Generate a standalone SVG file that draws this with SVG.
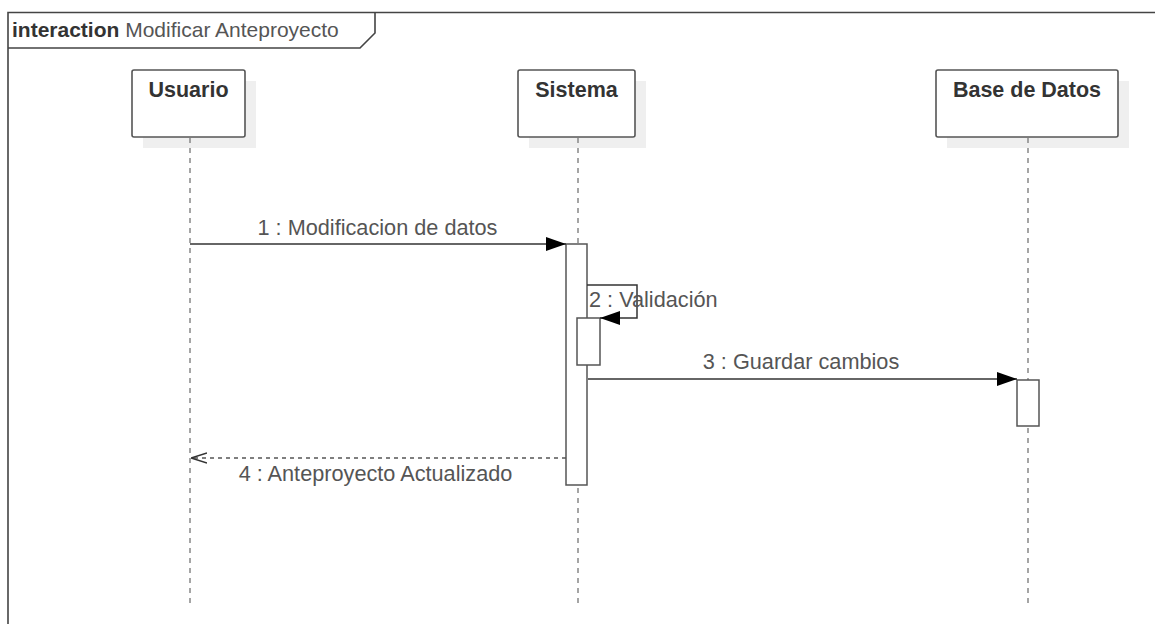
<svg xmlns="http://www.w3.org/2000/svg" width="1155" height="624" viewBox="0 0 1155 624">
  <style>
    .frame { fill: none; stroke: #444; stroke-width: 1.6; }
    .shadow { fill: #efefef; stroke: none; }
    .box { fill: #fff; stroke: #555; stroke-width: 1.6; }
    .act { fill: #fff; stroke: #555; stroke-width: 1.5; }
    .life { fill: none; stroke: #888; stroke-width: 1.5; stroke-dasharray: 5 5; }
    .name { font-family: "Liberation Sans", Arial, sans-serif; font-size: 21.5px; font-weight: bold; fill: #333; }
    .label { font-family: "Liberation Sans", Arial, sans-serif; font-size: 21.7px; fill: #555; }
    .msg { fill: none; stroke: #333; stroke-width: 1.5; }
    .ret { fill: none; stroke: #555; stroke-width: 1.5; stroke-dasharray: 4 4; }
  </style>
  <defs>
    <marker id="solid" viewBox="0 0 20 14" refX="20" refY="7" markerWidth="20" markerHeight="14" markerUnits="userSpaceOnUse" orient="auto">
      <path d="M0,0 L20,7 L0,14 Z" fill="#000"/>
    </marker>
    <marker id="open" viewBox="0 0 16 12" refX="16" refY="6" markerWidth="16" markerHeight="12" markerUnits="userSpaceOnUse" orient="auto">
      <path d="M0,1 L16,6 L0,11" fill="none" stroke="#333" stroke-width="1.5"/>
    </marker>
  </defs>

  <rect width="1155" height="624" fill="#fff"/>

  <!-- interaction frame -->
  <g id="frame">
    <path class="frame" d="M8,630 L8,12.5 L1160,12.5"/>
    <path class="frame" d="M8,48 L360,48 L375,33 L375,12.5"/>
    <text x="12" y="37" font-family="'Liberation Sans', Arial, sans-serif" font-size="21px"><tspan font-weight="bold" fill="#333">interaction</tspan><tspan fill="#555"> Modificar Anteproyecto</tspan></text>
  </g>

  <!-- lifelines -->
  <g id="usuario">
    <rect class="shadow" x="143" y="81" width="113" height="67"/>
    <rect class="box" x="132" y="70" width="113" height="67" rx="2"/>
    <text class="name" x="188.5" y="97" text-anchor="middle">Usuario</text>
    <line class="life" x1="190" y1="138" x2="190" y2="605"/>
  </g>

  <g id="sistema">
    <rect class="shadow" x="529" y="81" width="117" height="67"/>
    <rect class="box" x="518" y="70" width="117" height="67" rx="2"/>
    <text class="name" x="576.5" y="97" text-anchor="middle">Sistema</text>
    <line class="life" x1="578" y1="138" x2="578" y2="605"/>
    <rect class="act" x="566" y="244" width="21" height="241"/>
    <rect class="act" x="577" y="318" width="23" height="47"/>
  </g>

  <g id="base-de-datos">
    <rect class="shadow" x="947" y="81" width="182" height="67"/>
    <rect class="box" x="936" y="70" width="182" height="67" rx="2"/>
    <text class="name" x="1027" y="97" text-anchor="middle">Base de Datos</text>
    <line class="life" x1="1028" y1="138" x2="1028" y2="605"/>
    <rect class="act" x="1017" y="380" width="22" height="46"/>
  </g>

  <!-- messages -->
  <g id="connectors">
    <line class="msg" x1="190" y1="244" x2="566" y2="244" marker-end="url(#solid)"/>
    <text class="label" x="377.5" y="235" text-anchor="middle">1 : Modificacion de datos</text>

    <path class="msg" d="M587,285 L637,285 L637,318 L600,318" marker-end="url(#solid)"/>
    <text class="label" x="589" y="307">2 : Validación</text>

    <line class="msg" x1="588" y1="379" x2="1017" y2="379" marker-end="url(#solid)"/>
    <text class="label" x="801" y="369" text-anchor="middle">3 : Guardar cambios</text>

    <line class="ret" x1="566" y1="458" x2="191" y2="458" marker-end="url(#open)"/>
    <text class="label" x="375.5" y="481" text-anchor="middle">4 : Anteproyecto Actualizado</text>
  </g>
</svg>
